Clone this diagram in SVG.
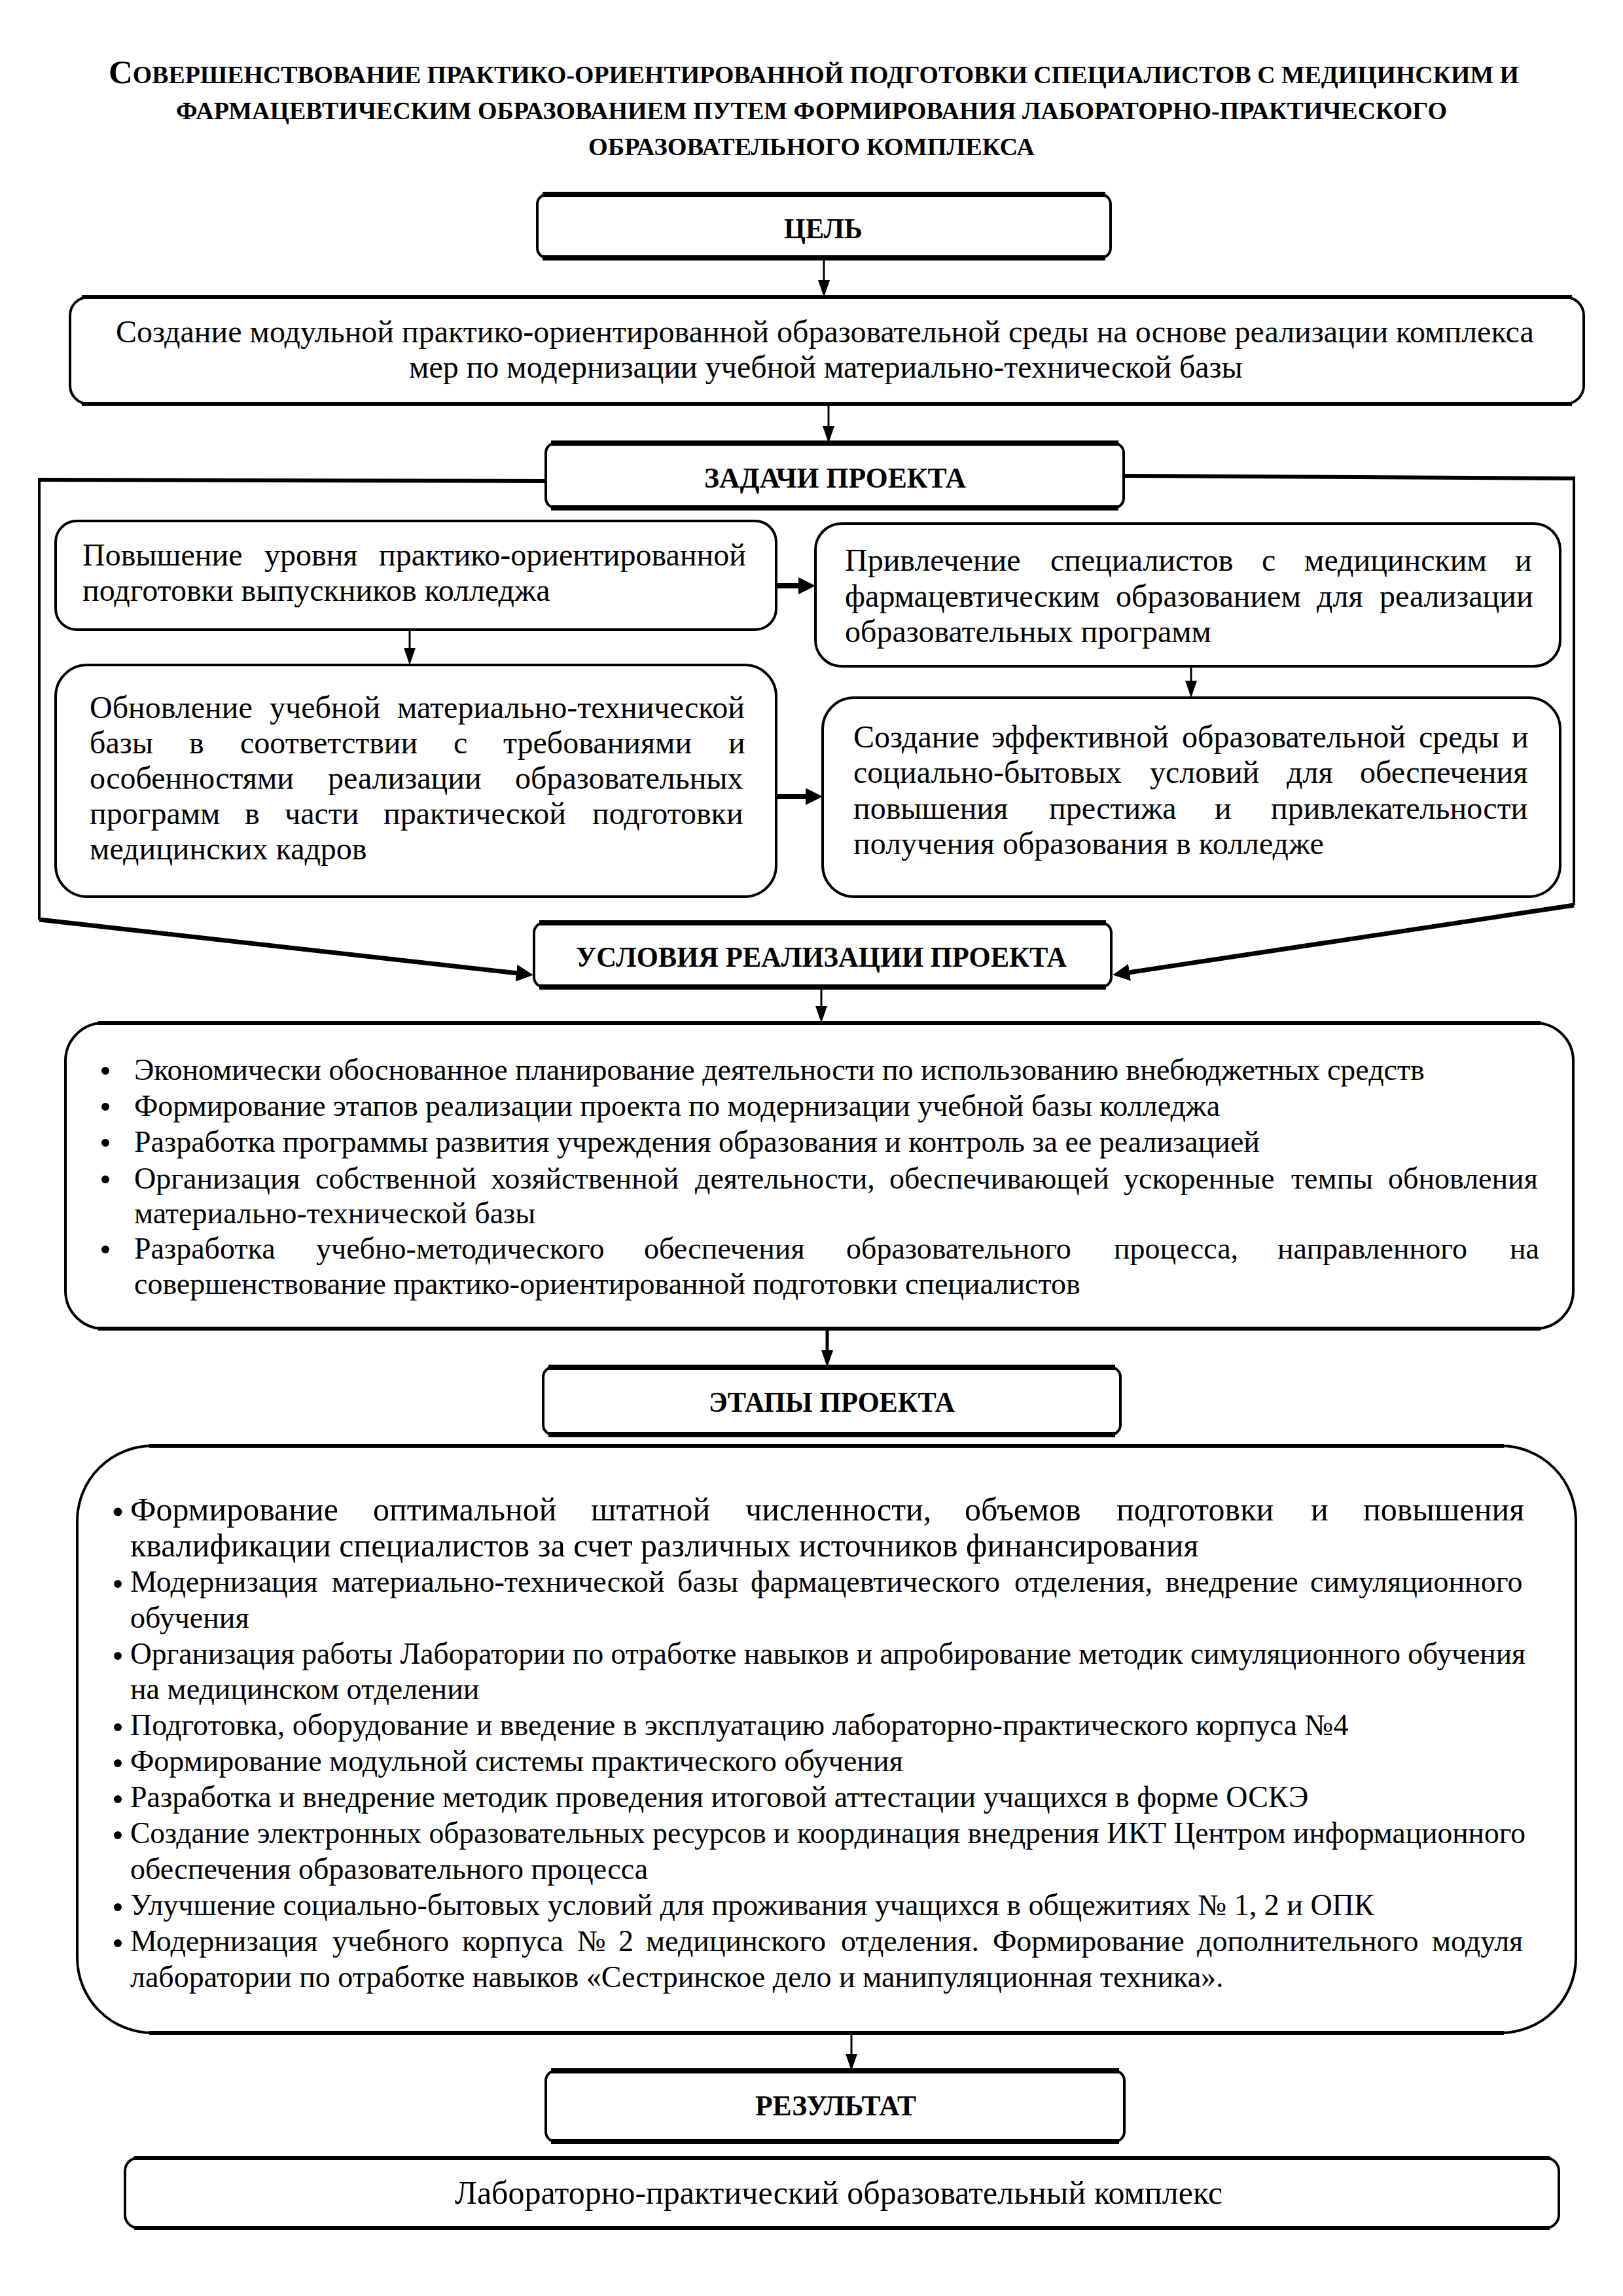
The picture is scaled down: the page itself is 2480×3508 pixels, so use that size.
<svg xmlns="http://www.w3.org/2000/svg" width="2480" height="3508" viewBox="0 0 2480 3508">
<defs>
<style>
.bg{fill:#fff}
.t{font-family:"Liberation Serif","Times New Roman",serif;font-size:48px;fill:#000}
.s{font-family:"Liberation Serif","Times New Roman",serif;font-size:46px;fill:#000}
.s1{font-family:"Liberation Serif","Times New Roman",serif;font-size:50px;fill:#000}
.ttl{font-family:"Liberation Serif","Times New Roman",serif;font-size:37px;font-weight:bold;fill:#000}
.h{font-family:"Liberation Serif","Times New Roman",serif;font-size:44px;font-weight:bold;fill:#000}
.box{fill:#fff;stroke:#000;stroke-width:4}
.band{fill:none;stroke:#000;stroke-width:8}
.band2{fill:none;stroke:#000;stroke-width:6}
.ln{fill:none;stroke:#000;stroke-width:3}
.lnm{fill:none;stroke:#000;stroke-width:5}
.lnt{fill:none;stroke:#000;stroke-width:8}
.fr{fill:none;stroke:#000;stroke-width:6}
.frv{fill:none;stroke:#000;stroke-width:4}
.fd{fill:none;stroke:#000;stroke-width:7}
.dot{fill:#000}
</style>
<marker id="ah" markerUnits="userSpaceOnUse" markerWidth="26" markerHeight="18" refX="2" refY="9" orient="auto"><path d="M0,0 L26,9 L0,18 Z" fill="#000"/></marker>
<marker id="ahb" markerUnits="userSpaceOnUse" markerWidth="26" markerHeight="26" refX="2" refY="13" orient="auto"><path d="M0,0 L26,13 L0,26 Z" fill="#000"/></marker>
</defs>
<rect class="bg" x="0" y="0" width="2480" height="3508"/>

<g id="title">
<text class="ttl" x="166" y="127" textLength="2155" lengthAdjust="spacingAndGlyphs"><tspan font-size="50">С</tspan>ОВЕРШЕНСТВОВАНИЕ ПРАКТИКО-ОРИЕНТИРОВАННОЙ ПОДГОТОВКИ СПЕЦИАЛИСТОВ С МЕДИЦИНСКИМ И</text>
<text class="ttl" x="269" y="182" textLength="1942" lengthAdjust="spacingAndGlyphs">ФАРМАЦЕВТИЧЕСКИМ ОБРАЗОВАНИЕМ ПУТЕМ ФОРМИРОВАНИЯ ЛАБОРАТОРНО-ПРАКТИЧЕСКОГО</text>
<text class="ttl" x="899" y="237" textLength="682" lengthAdjust="spacingAndGlyphs">ОБРАЗОВАТЕЛЬНОГО КОМПЛЕКСА</text>
</g>

<g id="connectors">
<line class="ln" x1="1259" y1="394" x2="1259" y2="430" marker-end="url(#ah)"/>
<line class="ln" x1="1266" y1="617" x2="1266" y2="653" marker-end="url(#ah)"/>
<line class="ln" x1="626" y1="962" x2="626" y2="992" marker-end="url(#ah)"/>
<line class="ln" x1="1820" y1="1018" x2="1820" y2="1042" marker-end="url(#ah)"/>
<line class="ln" x1="1255" y1="1508" x2="1255" y2="1539" marker-end="url(#ah)"/>
<line class="lnm" x1="1264" y1="2030" x2="1264" y2="2065" marker-end="url(#ah)"/>
<line class="ln" x1="1301" y1="3106" x2="1301" y2="3140" marker-end="url(#ah)"/>
<line class="lnt" x1="1186" y1="895" x2="1222" y2="895" marker-end="url(#ahb)"/>
<line class="lnt" x1="1186" y1="1217" x2="1233" y2="1217" marker-end="url(#ahb)"/>
<line class="fr" x1="834" y1="735" x2="58" y2="733"/>
<line class="frv" x1="60" y1="731" x2="60" y2="1405"/>
<line class="fd" x1="60" y1="1405" x2="791" y2="1487" marker-end="url(#ahb)"/>
<line class="fr" x1="1717" y1="727" x2="2407" y2="731"/>
<line class="frv" x1="2405" y1="729" x2="2405" y2="1383"/>
<line class="fd" x1="2405" y1="1383" x2="1724" y2="1486" marker-end="url(#ahb)"/>
</g>

<g id="n-goal-head">
<rect class="box" x="821" y="297" width="876" height="97" rx="15"/>
<path class="band" d="M829,297 H1689 M829,394 H1689"/>
<text class="h" x="1198" y="364" textLength="120" lengthAdjust="spacingAndGlyphs">ЦЕЛЬ</text>
</g>

<g id="n-goal">
<rect class="box" x="107" y="454" width="2313" height="163" rx="28"/>
<path class="band2" d="M125,454 H2402 M125,617 H2402"/>
<text class="t" x="177" y="523">Создание модульной практико-ориентированной образовательной среды на основе реализации комплекса</text>
<text class="t" x="625" y="577">мер по модернизации учебной материально-технической базы</text>
</g>

<g id="n-tasks-head">
<rect class="box" x="834" y="677" width="883" height="99" rx="15"/>
<path class="band" d="M842,677 H1709 M842,776 H1709"/>
<text class="h" x="1076" y="745" textLength="400" lengthAdjust="spacingAndGlyphs">ЗАДАЧИ ПРОЕКТА</text>
</g>

<g id="n-task1">
<rect class="box" x="85" y="796" width="1101" height="166" rx="32"/>
<text class="t" y="864"><tspan x="126">Повышение </tspan><tspan x="404">уровня </tspan><tspan x="579">практико-ориентированной</tspan></text>
<text class="t" x="126" y="918">подготовки выпускников колледжа</text>
</g>

<g id="n-task2">
<rect class="box" x="1246" y="800" width="1138" height="218" rx="40"/>
<text class="t" y="872"><tspan x="1291">Привлечение </tspan><tspan x="1605">специалистов </tspan><tspan x="1928">с </tspan><tspan x="1993">медицинским </tspan><tspan x="2315">и</tspan></text>
<text class="t" y="927"><tspan x="1291">фармацевтическим </tspan><tspan x="1705">образованием </tspan><tspan x="2012">для </tspan><tspan x="2108">реализации</tspan></text>
<text class="t" x="1291" y="981">образовательных программ</text>
</g>

<g id="n-task3">
<rect class="box" x="85" y="1016" width="1101" height="354" rx="48"/>
<text class="t" y="1097"><tspan x="137">Обновление </tspan><tspan x="412">учебной </tspan><tspan x="607">материально-технической</tspan></text>
<text class="t" y="1151"><tspan x="137">базы </tspan><tspan x="289">в </tspan><tspan x="367">соответствии </tspan><tspan x="693">с </tspan><tspan x="769">требованиями </tspan><tspan x="1113">и</tspan></text>
<text class="t" y="1205"><tspan x="137">особенностями </tspan><tspan x="501">реализации </tspan><tspan x="787">образовательных</tspan></text>
<text class="t" y="1259"><tspan x="137">программ </tspan><tspan x="374">в </tspan><tspan x="435">части </tspan><tspan x="586">практической </tspan><tspan x="905">подготовки</tspan></text>
<text class="t" x="137" y="1313">медицинских кадров</text>
</g>

<g id="n-task4">
<rect class="box" x="1257" y="1066" width="1127" height="304" rx="48"/>
<text class="t" y="1142"><tspan x="1304">Создание </tspan><tspan x="1515">эффективной </tspan><tspan x="1806">образовательной </tspan><tspan x="2168">среды </tspan><tspan x="2310">и</tspan></text>
<text class="t" y="1196"><tspan x="1304">социально-бытовых </tspan><tspan x="1757">условий </tspan><tspan x="1966">для </tspan><tspan x="2078">обеспечения</tspan></text>
<text class="t" y="1251"><tspan x="1304">повышения </tspan><tspan x="1603">престижа </tspan><tspan x="1856">и </tspan><tspan x="1942">привлекательности</tspan></text>
<text class="t" x="1304" y="1305">получения образования в колледже</text>
</g>

<g id="n-cond-head">
<rect class="box" x="816" y="1410" width="882" height="98" rx="15"/>
<path class="band" d="M824,1410 H1690 M824,1508 H1690"/>
<text class="h" x="880" y="1477" textLength="750" lengthAdjust="spacingAndGlyphs">УСЛОВИЯ РЕАЛИЗАЦИИ ПРОЕКТА</text>
</g>

<g id="n-cond">
<rect class="box" x="100" y="1563" width="2304" height="467" rx="58"/>
<path class="band2" d="M150,1563 H2354 M150,2030 H2354"/>
<circle class="dot" cx="161" cy="1636" r="6"/>
<circle class="dot" cx="161" cy="1691" r="6"/>
<circle class="dot" cx="161" cy="1746" r="6"/>
<circle class="dot" cx="161" cy="1802" r="6"/>
<circle class="dot" cx="161" cy="1909" r="6"/>
<text class="s" x="205" y="1650">Экономически обоснованное планирование деятельности по использованию внебюджетных средств</text>
<text class="s" x="205" y="1705">Формирование этапов реализации проекта по модернизации учебной базы колледжа</text>
<text class="s" x="205" y="1760">Разработка программы развития учреждения образования и контроль за ее реализацией</text>
<text class="s" y="1816"><tspan x="205">Организация </tspan><tspan x="482">собственной </tspan><tspan x="750">хозяйственной </tspan><tspan x="1062">деятельности, </tspan><tspan x="1359">обеспечивающей </tspan><tspan x="1717">ускоренные </tspan><tspan x="1973">темпы </tspan><tspan x="2121">обновления</tspan></text>
<text class="s" x="205" y="1869">материально-технической базы</text>
<text class="s" y="1923"><tspan x="205">Разработка </tspan><tspan x="483">учебно-методического </tspan><tspan x="984">обеспечения </tspan><tspan x="1293">образовательного </tspan><tspan x="1702">процесса, </tspan><tspan x="1952">направленного </tspan><tspan x="2307">на</tspan></text>
<text class="s" x="205" y="1977">совершенствование практико-ориентированной подготовки специалистов</text>
</g>

<g id="n-stages-head">
<rect class="box" x="830" y="2089" width="882" height="103" rx="15"/>
<path class="band" d="M838,2089 H1704 M838,2192 H1704"/>
<text class="h" x="1083" y="2157" textLength="376" lengthAdjust="spacingAndGlyphs">ЭТАПЫ ПРОЕКТА</text>
</g>

<g id="n-stages">
<rect class="box" x="118" y="2209" width="2290" height="897" rx="115"/>
<path class="band2" d="M228,2209 H2298 M228,3106 H2298"/>
<circle class="dot" cx="180" cy="2310" r="6.5"/>
<circle class="dot" cx="180" cy="2420" r="6"/>
<circle class="dot" cx="180" cy="2530" r="6"/>
<circle class="dot" cx="180" cy="2639" r="6"/>
<circle class="dot" cx="180" cy="2694" r="6"/>
<circle class="dot" cx="180" cy="2749" r="6"/>
<circle class="dot" cx="180" cy="2804" r="6"/>
<circle class="dot" cx="180" cy="2914" r="6"/>
<circle class="dot" cx="180" cy="2969" r="6"/>
<text class="s1" y="2323"><tspan x="199">Формирование </tspan><tspan x="570">оптимальной </tspan><tspan x="903">штатной </tspan><tspan x="1139">численности, </tspan><tspan x="1474">объемов </tspan><tspan x="1706">подготовки </tspan><tspan x="2003">и </tspan><tspan x="2083">повышения</tspan></text>
<text class="s1" x="199" y="2378">квалификации специалистов за счет различных источников финансирования</text>
<text class="s" y="2432"><tspan x="199">Модернизация </tspan><tspan x="507">материально-технической </tspan><tspan x="1035">базы </tspan><tspan x="1147">фармацевтического </tspan><tspan x="1550">отделения, </tspan><tspan x="1781">внедрение </tspan><tspan x="2002">симуляционного</tspan></text>
<text class="s" x="199" y="2487">обучения</text>
<text class="s" x="199" y="2542" textLength="2132" lengthAdjust="spacingAndGlyphs">Организация работы Лаборатории по отработке навыков и апробирование методик симуляционного обучения</text>
<text class="s" x="199" y="2596">на медицинском отделении</text>
<text class="s" x="199" y="2651">Подготовка, оборудование и введение в эксплуатацию лабораторно-практического корпуса №4</text>
<text class="s" x="199" y="2706">Формирование модульной системы практического обучения</text>
<text class="s" x="199" y="2761">Разработка и внедрение методик проведения итоговой аттестации учащихся в форме ОСКЭ</text>
<text class="s" x="199" y="2816" textLength="2132" lengthAdjust="spacingAndGlyphs">Создание электронных образовательных ресурсов и координация внедрения ИКТ Центром информационного</text>
<text class="s" x="199" y="2871">обеспечения образовательного процесса</text>
<text class="s" x="199" y="2926">Улучшение социально-бытовых условий для проживания учащихся в общежитиях № 1, 2 и ОПК</text>
<text class="s" y="2981"><tspan x="199">Модернизация </tspan><tspan x="508">учебного </tspan><tspan x="706">корпуса </tspan><tspan x="882">№ </tspan><tspan x="945">2 </tspan><tspan x="987">медицинского </tspan><tspan x="1285">отделения. </tspan><tspan x="1517">Формирование </tspan><tspan x="1829">дополнительного </tspan><tspan x="2188">модуля</tspan></text>
<text class="s" x="199" y="3036">лаборатории по отработке навыков «Сестринское дело и манипуляционная техника».</text>
</g>

<g id="n-result-head">
<rect class="box" x="834" y="3164" width="884" height="108" rx="15"/>
<path class="band" d="M842,3164 H1710 M842,3272 H1710"/>
<text class="h" x="1154" y="3232" textLength="246" lengthAdjust="spacingAndGlyphs">РЕЗУЛЬТАТ</text>
</g>

<g id="n-result">
<rect class="box" x="191" y="3297" width="2191" height="107" rx="20"/>
<path class="band2" d="M205,3297 H2368 M205,3404 H2368"/>
<text class="s1" x="695" y="3367">Лабораторно-практический образовательный комплекс</text>
</g>
</svg>
